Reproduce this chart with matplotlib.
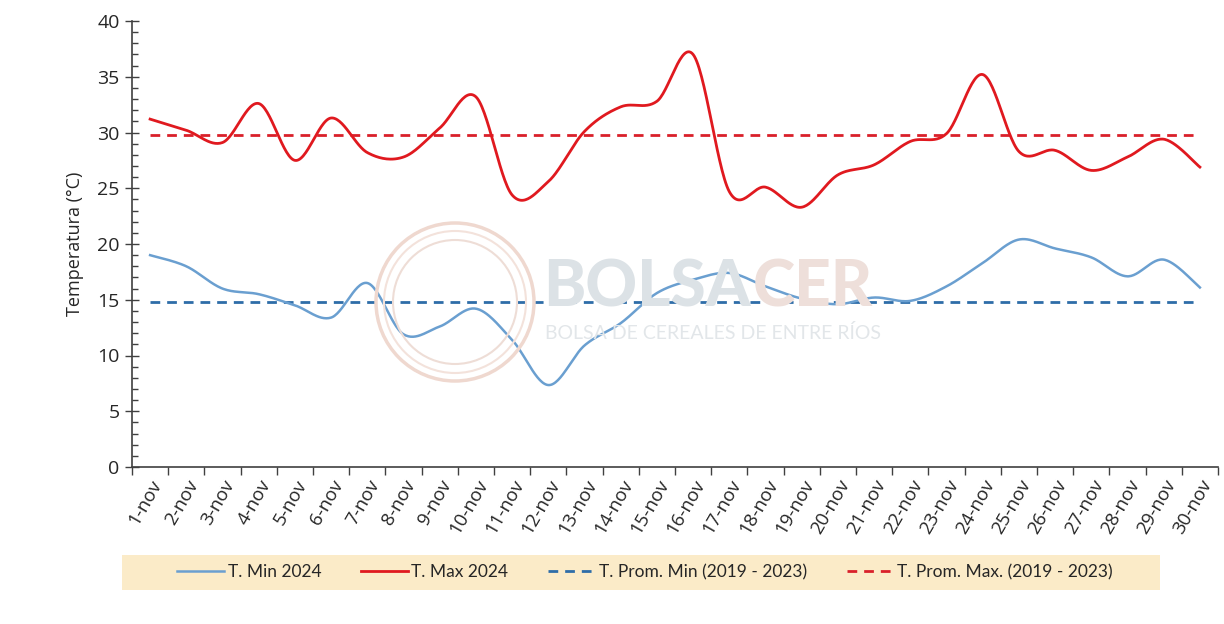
import numpy as np
import matplotlib
matplotlib.use("Agg")
import matplotlib.pyplot as plt
from matplotlib.patches import Rectangle, Circle
from matplotlib.ticker import MultipleLocator, FixedLocator

# ---------------- data ----------------
days = list(range(1, 31))
day_labels = [f"{d}-nov" for d in days]
t_min_2024 = [19.0, 18.0, 16.0, 15.5, 14.5, 13.4, 16.5, 11.9, 12.6, 14.2,
              11.4, 7.35, 10.9, 12.9, 15.6, 16.8, 17.4, 16.2, 15.1, 14.6,
              15.2, 14.9, 16.2, 18.3, 20.4, 19.6, 18.8, 17.1, 18.6, 16.1]
t_max_2024 = [31.2, 30.2, 29.1, 32.6, 27.5, 31.3, 28.2, 27.8, 30.4, 33.2,
              24.4, 25.6, 30.1, 32.3, 32.8, 37.0, 24.7, 25.1, 23.3, 26.2,
              27.1, 29.2, 29.9, 35.2, 28.3, 28.4, 26.6, 27.8, 29.4, 26.9]
prom_min = 14.8
prom_max = 29.8
series_labels = ["T. Min 2024", "T. Max 2024",
                 "T. Prom. Min (2019 - 2023)", "T. Prom. Max. (2019 - 2023)"]


def smooth(xs, ys, n=30):
    """Excel-like smoothed line (Bezier through every point)."""
    x = np.asarray(xs, float)
    y = np.asarray(ys, float)
    px = np.concatenate([[x[0]], x, [x[-1]]])
    py = np.concatenate([[y[0]], y, [y[-1]]])
    ox, oy = [], []
    t = np.linspace(0, 1, n, endpoint=False)
    for i in range(1, len(px) - 2):
        p0 = np.array([px[i], py[i]])
        p3 = np.array([px[i + 1], py[i + 1]])
        c1 = p0 + (np.array([px[i + 1], py[i + 1]]) - np.array([px[i - 1], py[i - 1]])) / 6
        c2 = p3 - (np.array([px[i + 2], py[i + 2]]) - np.array([px[i], py[i]])) / 6
        b = ((1 - t) ** 3)[:, None] * p0 + (3 * (1 - t) ** 2 * t)[:, None] * c1 \
            + (3 * (1 - t) * t ** 2)[:, None] * c2 + (t ** 3)[:, None] * p3
        ox.extend(b[:, 0]); oy.extend(b[:, 1])
    ox.append(x[-1]); oy.append(y[-1])
    return np.array(ox), np.array(oy)


plt.rcParams['font.family'] = ['Open Sans', 'DejaVu Sans']
W, H = 1224, 624
fig = plt.figure(figsize=(W / 100, H / 100), dpi=100)
ax = fig.add_axes([132 / W, 1 - 467 / H, (1218 - 132) / W, (467 - 21) / H])

c_min = '#6A9FD0'
c_max = '#E0191F'
c_pmin = '#2E6DA8'
c_pmax = '#D9202A'

# ---- watermark ----
cxp, cyp = 455, H - 302
for r, col, lw in [(79, '#EFD8CF', 2.5), (71, '#F3E2DB', 1.5), (62, '#EEDDD6', 1.5)]:
    fig.patches.append(Circle((cxp, cyp), r, transform=None,
                              fill=False, ec=col, lw=lw, zorder=0))
fig.text(543 / W, 1 - 288 / H, "BOLSA", fontsize=46, fontweight='black', color='#DCE2E6',
         ha='left', va='center', zorder=0, family='Lato')
fig.text(753 / W, 1 - 288 / H, "CER", fontsize=46, fontweight='black', color='#EEDFDA',
         ha='left', va='center', zorder=0, family='Lato')
fig.text(545 / W, 1 - 333 / H, "BOLSA DE CEREALES DE ENTRE RÍOS", fontsize=14,
         color='#E2E6E9', ha='left', va='center', zorder=0, family='Lato')
ax.set_facecolor('none')

# ---- lines ----
sx, sy = smooth(days, t_min_2024)
ax.plot(sx, sy, color=c_min, lw=1.8, label=series_labels[0], zorder=3)
sx, sy = smooth(days, t_max_2024)
ax.plot(sx, sy, color=c_max, lw=2.0, label=series_labels[1], zorder=3)
ax.plot(days, [prom_min] * len(days), color=c_pmin, lw=2.0,
        ls=(0, (3.5, 2.5)), label=series_labels[2], zorder=2)
ax.plot(days, [prom_max] * len(days), color=c_pmax, lw=2.0,
        ls=(0, (3.5, 2.5)), label=series_labels[3], zorder=2)

ax.set_xlim(0.5, 30.5)
ax.set_ylim(0, 40)
ax.set_xticks(days)
ax.set_xticklabels(day_labels, rotation=60, ha='right', va='top',
                   rotation_mode='anchor', fontsize=13.5, color='#262626')
ax.xaxis.set_minor_locator(FixedLocator(np.arange(0.5, 31, 1)))
ax.tick_params(axis='x', which='major', length=0, pad=7)
ax.tick_params(axis='x', which='minor', length=6, direction='out', color='#404040', width=1)
ax.yaxis.set_major_locator(MultipleLocator(5))
ax.yaxis.set_minor_locator(MultipleLocator(1))
ax.tick_params(axis='y', which='major', length=10, direction='inout', color='#404040',
               width=1, labelsize=14, labelcolor='#262626', pad=4)
ax.tick_params(axis='y', which='minor', length=4, direction='in', color='#404040', width=1)
for s in ['top', 'right']:
    ax.spines[s].set_visible(False)
for s in ['left', 'bottom']:
    ax.spines[s].set_color('#404040')
    ax.spines[s].set_linewidth(1.2)
ax.set_ylabel("Temperatura (°C)", fontsize=13, color='#262626', labelpad=9)

# ---- legend ----
fig.patches.append(Rectangle((122 / W, 1 - 590 / H), (1160 - 122) / W, 35 / H,
                             transform=fig.transFigure, fc='#FBEBC8', ec='none', zorder=0))
handles, labels = ax.get_legend_handles_labels()
leg = fig.legend(handles, labels, loc='center', bbox_to_anchor=(645 / W, 1 - 572 / H),
                 ncol=4, frameon=False, handlelength=2.7,
                 handletextpad=0.2, columnspacing=2.3, prop={'family': 'Lato', 'size': 12.5})
for t in leg.get_texts():
    t.set_color('#262626')

fig.savefig('out.png', dpi=100, facecolor='white')
